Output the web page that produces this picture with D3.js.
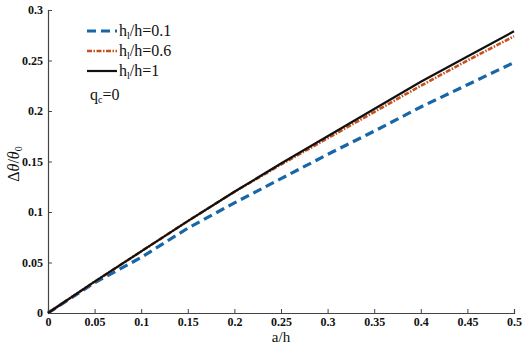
<!DOCTYPE html>
<html>
<head>
<meta charset="utf-8">
<script src="https://cdn.jsdelivr.net/npm/d3@7"></script>
<style>
  body { margin: 0; background: #fff; }
  svg, svg text { font-family: 'Liberation Serif', 'DejaVu Serif', serif !important; }
</style>
</head>
<body>
<svg id="chart" width="523" height="344"></svg>
<script>
// values
const aH = [0, 0.05, 0.1, 0.15, 0.2, 0.25, 0.3, 0.35, 0.4, 0.45, 0.5];
const ratio01 = [0, 0.030, 0.055, 0.084, 0.109, 0.133, 0.157, 0.180, 0.204, 0.226, 0.248];
const ratio06 = [0, 0.031, 0.061, 0.091, 0.120, 0.147, 0.173, 0.199, 0.225, 0.250, 0.274];
const ratio1  = [0, 0.031, 0.061, 0.091, 0.120, 0.148, 0.175, 0.202, 0.229, 0.254, 0.279];
const seriesNames = ["0.1", "0.6", "1"];
const xTicks = [0, 0.05, 0.1, 0.15, 0.2, 0.25, 0.3, 0.35, 0.4, 0.45, 0.5];
const yTicks = [0, 0.05, 0.1, 0.15, 0.2, 0.25, 0.3];

const svg = d3.select("#chart");
const margin = {top: 10, right: 9, bottom: 31, left: 48};
const width = 523 - margin.left - margin.right;
const height = 344 - margin.top - margin.bottom;

const x = d3.scaleLinear().domain([0, 0.5]).range([0, width]);
const y = d3.scaleLinear().domain([0, 0.3]).range([height, 0]);

const g = svg.append("g").attr("transform", `translate(${margin.left},${margin.top})`);

// axes, ticks pointing inward
const xAxis = g.append("g")
    .attr("transform", `translate(0,${height})`)
    .call(d3.axisBottom(x).tickValues(xTicks).tickSize(-4).tickPadding(4)
        .tickFormat(d => d3.format("")(d)));
const yAxis = g.append("g")
    .call(d3.axisLeft(y).tickValues(yTicks).tickSize(-4).tickPadding(5)
        .tickFormat(d => d3.format("")(d)));

[xAxis, yAxis].forEach(ax => {
    ax.attr("font-family", null).attr("font-size", 12).attr("font-weight", "bold");
    ax.select(".domain").attr("stroke", "#444").attr("stroke-width", 1.2);
    ax.selectAll(".tick line").attr("stroke", "#444");
    ax.selectAll(".tick text").attr("fill", "#111");
});

// lines
const line = d3.line()
    .x((d, i) => x(aH[i]))
    .y(d => y(d));

const styles = [
    {data: ratio01, color: "#1666a8", width: 3.2, dash: "9,5"},
    {data: ratio06, color: "#c8501c", width: 2.6, dash: "5,1.5,1.5,1.5"},
    {data: ratio1,  color: "#111111", width: 2.2, dash: null}
];

styles.forEach(s => {
    g.append("path")
        .datum(s.data)
        .attr("fill", "none")
        .attr("stroke", s.color)
        .attr("stroke-width", s.width)
        .attr("stroke-dasharray", s.dash)
        .attr("d", line);
});

// legend
const legend = svg.append("g").attr("font-size", 16);
styles.forEach((s, i) => {
    const ly = 31 + i * 20;
    legend.append("line")
        .attr("x1", 87).attr("x2", 117)
        .attr("y1", ly).attr("y2", ly)
        .attr("stroke", s.color)
        .attr("stroke-width", s.width)
        .attr("stroke-dasharray", s.dash);
    const t = legend.append("text")
        .attr("x", 119).attr("y", ly + 5)
        .attr("fill", "#111");
    t.append("tspan").text("h");
    t.append("tspan").text("l").attr("font-size", 10).attr("dy", 3);
    t.append("tspan").text("/h=" + seriesNames[i]).attr("dy", -3);
});

const q = legend.append("text").attr("x", 90).attr("y", 100).attr("fill", "#111");
q.append("tspan").text("q");
q.append("tspan").text("c").attr("font-size", 10).attr("dy", 3);
q.append("tspan").text("=0").attr("dy", -3);

// axis titles
svg.append("text")
    .attr("x", margin.left + x(0.25))
    .attr("y", 342)
    .attr("text-anchor", "middle")
    .attr("font-size", 15)
    .attr("fill", "#111")
    .text("a/h");

const yt = svg.append("text")
    .attr("transform", "translate(19,164) rotate(-90)")
    .attr("text-anchor", "middle")
    .attr("font-size", 16)
    .attr("fill", "#111");
yt.append("tspan").text("Δ");
yt.append("tspan").text("θ").attr("font-style", "italic");
yt.append("tspan").text("/");
yt.append("tspan").text("θ").attr("font-style", "italic");
yt.append("tspan").text("0").attr("font-size", 10).attr("dy", 3);
</script>
</body>
</html>
